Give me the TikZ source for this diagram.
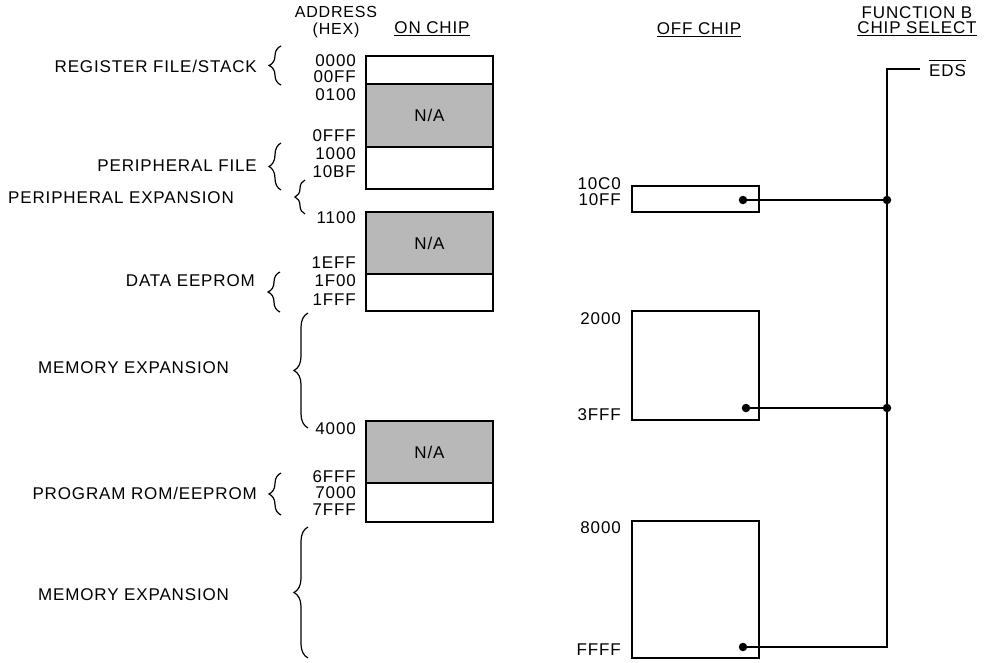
\documentclass[tikz,border=0pt]{standalone}
\usepackage{fontspec}
\setmainfont{Liberation Sans}
\newfontfamily\lab{Liberation Sans}[LetterSpace=5]
\usetikzlibrary{decorations.pathreplacing}
\begin{document}
\begin{tikzpicture}[x=1pt,y=-1pt,
  lbl/.style={font=\lab\fontsize{17}{15}\selectfont, inner sep=0pt},
  seg/.style={draw, line width=1.1pt, minimum width=127pt, inner sep=0pt, font=\lab\fontsize{17}{15}\selectfont},
  na/.style={seg, fill=black!28},
  wire/.style={line width=1.1pt},
  dotn/.style={circle, fill=black, inner sep=0pt, minimum size=8.5pt},
  brc/.style={line width=1.2pt, decorate, decoration={brace, amplitude=#1}},
  brc/.default=12pt]
\useasboundingbox (0,0) rectangle (988,662);
% headers
\node[lbl, align=center, font=\lab\fontsize{16}{16.5}\selectfont] (addr) at (336,22) {ADDRESS\\(HEX)};
\node[lbl] (onchip) at (432,29) {\underline{ON CHIP}};
\node[lbl] (offchip) at (699,30) {\underline{OFF CHIP}};
\node[lbl, align=center] (funcb) at (917,21) {FUNCTION B\\\underline{CHIP SELECT}};
% on-chip map
\node[seg, minimum height=28pt] (r1) at (429.5,70) {};
\node[na, minimum height=63pt] (na1) at (429.5,115.5) {N/A};
\node[seg, minimum height=42pt] (p1) at (429.5,168) {};
\node[na, minimum height=62pt] (na2) at (429.5,243) {N/A};
\node[seg, minimum height=37pt] (d1) at (429.5,292.5) {};
\node[na, minimum height=62pt] (na3) at (429.5,452) {N/A};
\node[seg, minimum height=39pt] (pr1) at (429.5,502.5) {};
% addresses
\foreach \nm/\yy/\tx in {a1/61/0000, a2/77/00FF, a3/95/0100, a4/136/0FFF, a5/154/1000, a6/172/10BF, a7/218/1100, a8/263/1EFF, a9/281/1F00, a10/300/1FFF, a11/429/4000, a12/477/6FFF, a13/493/7000, a14/510/7FFF}
  \node[lbl, anchor=east] (\nm) at (356,\yy) {\tx};
% region labels
\node[lbl, anchor=east] (lreg) at (257,66) {REGISTER FILE/STACK};
\node[lbl, anchor=east] (lper) at (257,166) {PERIPHERAL FILE};
\node[lbl, anchor=west] (lpex) at (8,198) {PERIPHERAL EXPANSION};
\node[lbl, anchor=east] (ldat) at (255,281) {DATA EEPROM};
\node[lbl, anchor=west] (lmem1) at (38,368) {MEMORY EXPANSION};
\node[lbl, anchor=east] (lprg) at (257,493) {PROGRAM ROM/EEPROM};
\node[lbl, anchor=west] (lmem2) at (38,595) {MEMORY EXPANSION};
% braces
\draw[brc] (281,85) -- (281,46);
\draw[brc] (281,190) -- (281,143);
\draw[brc=10pt] (305,214) -- (305,180);
\draw[brc] (280,312) -- (280,272);
\draw[brc=14pt] (308,428) -- (308,313);
\draw[brc] (281,515) -- (281,473);
\draw[brc=14pt] (308,658) -- (308,527);
% off-chip boxes
\node[seg, minimum height=26pt] (o1) at (695.5,199) {};
\node[seg, minimum height=109pt] (o2) at (695.5,365.5) {};
\node[seg, minimum height=137pt] (o3) at (695.5,589.5) {};
\node[lbl, anchor=east] (b1) at (621,184) {10C0};
\node[lbl, anchor=east] (b2) at (621,200) {10FF};
\node[lbl, anchor=east] (b3) at (621,319) {2000};
\node[lbl, anchor=east] (b4) at (621,415) {3FFF};
\node[lbl, anchor=east] (b5) at (621,528) {8000};
\node[lbl, anchor=east] (b6) at (621,650) {FFFF};
% chip select wiring
\node[dotn] (dt1) at (743,200) {};
\node[dotn] (dt2) at (746,408) {};
\node[dotn] (dt3) at (743,647) {};
\node[dotn] (j1) at (887,200) {};
\node[dotn] (j2) at (887,408) {};
\coordinate (ctop) at (887,69);
\coordinate (cend) at (920,69);
\coordinate (cbot) at (887,647);
\node[lbl, anchor=west] (eds) at (929,68) {$\overline{\mbox{\lab\fontsize{17}{15}\selectfont\raisebox{0pt}[14pt][0pt]{EDS}}}$};
\draw[wire] (cend) -- (ctop) -- (j1.center) -- (j2.center) -- (cbot) -- (dt3.center);
\draw[wire] (dt1.center) -- (j1.center);
\draw[wire] (dt2.center) -- (j2.center);
\end{tikzpicture}
\end{document}
